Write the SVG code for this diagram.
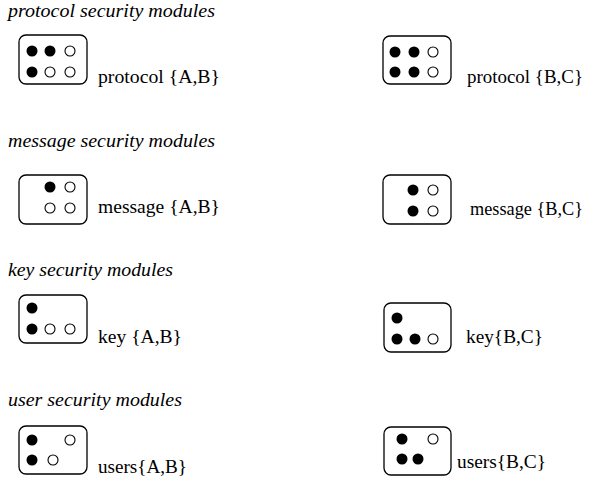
<svg xmlns="http://www.w3.org/2000/svg" width="589" height="480" viewBox="0 0 589 480">
<style>
text{font-family:'Liberation Serif','Times New Roman','DejaVu Serif',serif;font-size:19px;fill:#000}
.h{font-style:italic}
.box{fill:#fff;stroke:#000;stroke-width:1.3}
.f{fill:#000}
.o{fill:#fff;stroke:#000;stroke-width:1.1}
</style>
<rect width="589" height="480" fill="#fff"/>
<text class="h" x="8" y="17" textLength="207" lengthAdjust="spacingAndGlyphs">protocol security modules</text>
<g id="protocolAB">
<rect class="box" x="19" y="35" width="68" height="49" rx="7"/>
<circle class="f" cx="32" cy="51" r="5.5"/><circle class="f" cx="50" cy="51" r="5.5"/><circle class="o" cx="70" cy="51" r="5"/>
<circle class="f" cx="32" cy="72" r="5.5"/><circle class="o" cx="50" cy="72" r="5"/><circle class="o" cx="70" cy="72" r="5"/>
<text x="98" y="83" textLength="122" lengthAdjust="spacingAndGlyphs">protocol {A,B}</text>
</g>
<g id="protocolBC">
<rect class="box" x="383" y="36" width="68" height="48" rx="7"/>
<circle class="f" cx="395" cy="52" r="5.5"/><circle class="f" cx="414" cy="52" r="5.5"/><circle class="o" cx="433" cy="52" r="5"/>
<circle class="f" cx="395" cy="72" r="5.5"/><circle class="f" cx="414" cy="72" r="5.5"/><circle class="o" cx="433" cy="72" r="5"/>
<text x="467" y="83" textLength="116" lengthAdjust="spacingAndGlyphs">protocol {B,C}</text>
</g>
<text class="h" x="8" y="147" textLength="207" lengthAdjust="spacingAndGlyphs">message security modules</text>
<g id="messageAB">
<rect class="box" x="19" y="175" width="68" height="49" rx="7"/>
<circle class="f" cx="50" cy="187" r="5.5"/><circle class="o" cx="70" cy="187" r="5"/>
<circle class="o" cx="50" cy="208" r="5"/><circle class="o" cx="70" cy="208" r="5"/>
<text x="98" y="213" textLength="122" lengthAdjust="spacingAndGlyphs">message {A,B}</text>
</g>
<g id="messageBC">
<rect class="box" x="383" y="175" width="68" height="49" rx="7"/>
<circle class="f" cx="413" cy="190" r="5.5"/><circle class="o" cx="433" cy="190" r="5"/>
<circle class="f" cx="413" cy="211" r="5.5"/><circle class="o" cx="433" cy="211" r="5"/>
<text x="470" y="215" textLength="113" lengthAdjust="spacingAndGlyphs">message {B,C}</text>
</g>
<text class="h" x="8" y="276" textLength="165" lengthAdjust="spacingAndGlyphs">key security modules</text>
<g id="keyAB">
<rect class="box" x="19" y="295" width="68" height="48" rx="7"/>
<circle class="f" cx="32" cy="308" r="5.5"/>
<circle class="f" cx="32" cy="329" r="5.5"/><circle class="o" cx="50" cy="329" r="5"/><circle class="o" cx="70" cy="329" r="5"/>
<text x="98" y="343" textLength="84" lengthAdjust="spacingAndGlyphs">key {A,B}</text>
</g>
<g id="keyBC">
<rect class="box" x="384" y="303" width="67" height="49" rx="7"/>
<circle class="f" cx="397" cy="318" r="5.5"/>
<circle class="f" cx="397" cy="339" r="5.5"/><circle class="f" cx="415" cy="339" r="5.5"/><circle class="o" cx="433" cy="339" r="5"/>
<text x="466" y="343" textLength="77" lengthAdjust="spacingAndGlyphs">key{B,C}</text>
</g>
<text class="h" x="8" y="406" textLength="174" lengthAdjust="spacingAndGlyphs">user security modules</text>
<g id="usersAB">
<rect class="box" x="19" y="426" width="68" height="48" rx="7"/>
<circle class="f" cx="32" cy="440" r="5.5"/><circle class="o" cx="70" cy="440" r="5"/>
<circle class="f" cx="32" cy="460" r="5.5"/><circle class="o" cx="53" cy="460" r="5"/>
<text x="98" y="473" textLength="89" lengthAdjust="spacingAndGlyphs">users{A,B}</text>
</g>
<g id="usersBC">
<rect class="box" x="384" y="427" width="67" height="48" rx="7"/>
<circle class="f" cx="402" cy="439" r="5.5"/><circle class="o" cx="433" cy="439" r="5"/>
<circle class="f" cx="402" cy="459" r="5.5"/><circle class="f" cx="418" cy="459" r="5.5"/>
<text x="457" y="468" textLength="89" lengthAdjust="spacingAndGlyphs">users{B,C}</text>
</g>
<g id="connectors"/>
</svg>
